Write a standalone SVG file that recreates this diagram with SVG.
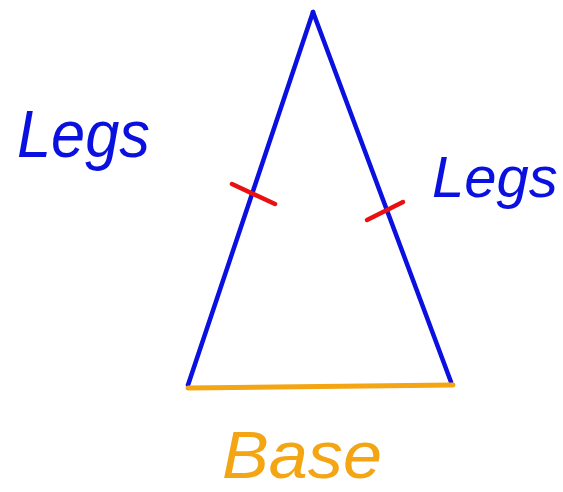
<svg xmlns="http://www.w3.org/2000/svg" width="563" height="492" viewBox="0 0 563 492">
<style>
.leg{stroke:#0a10e0;stroke-width:4.5;fill:none;stroke-linecap:round}
.base{stroke:#f3a514;stroke-width:5;fill:none;stroke-linecap:round}
.tick{stroke:#e81010;stroke-width:4.5;fill:none;stroke-linecap:round}
.lbl{font-family:"Liberation Sans",Arial,sans-serif;font-style:italic;font-size:66px}
.blue{fill:#0a10e0}
.orange{fill:#f3a514}
</style>
<rect width="563" height="492" fill="#ffffff"/>
<g id="connectors">
<line class="leg" x1="313" y1="12" x2="188" y2="385"/>
<line class="leg" x1="313" y1="12" x2="451" y2="382"/>
<line class="base" x1="188" y1="388" x2="453" y2="385"/>
<line class="tick" x1="232" y1="184" x2="275" y2="204"/>
<line class="tick" x1="367" y1="220" x2="403" y2="202"/>
</g>
<g id="label-legs-left"><text class="lbl blue" x="17" y="157" textLength="133" lengthAdjust="spacingAndGlyphs">Legs</text></g>
<g id="label-legs-right"><text class="lbl blue" x="432" y="197" style="font-size:58px">Legs</text></g>
<g id="label-base"><text class="lbl orange" x="222" y="478" textLength="160" lengthAdjust="spacingAndGlyphs">Base</text></g>
</svg>
